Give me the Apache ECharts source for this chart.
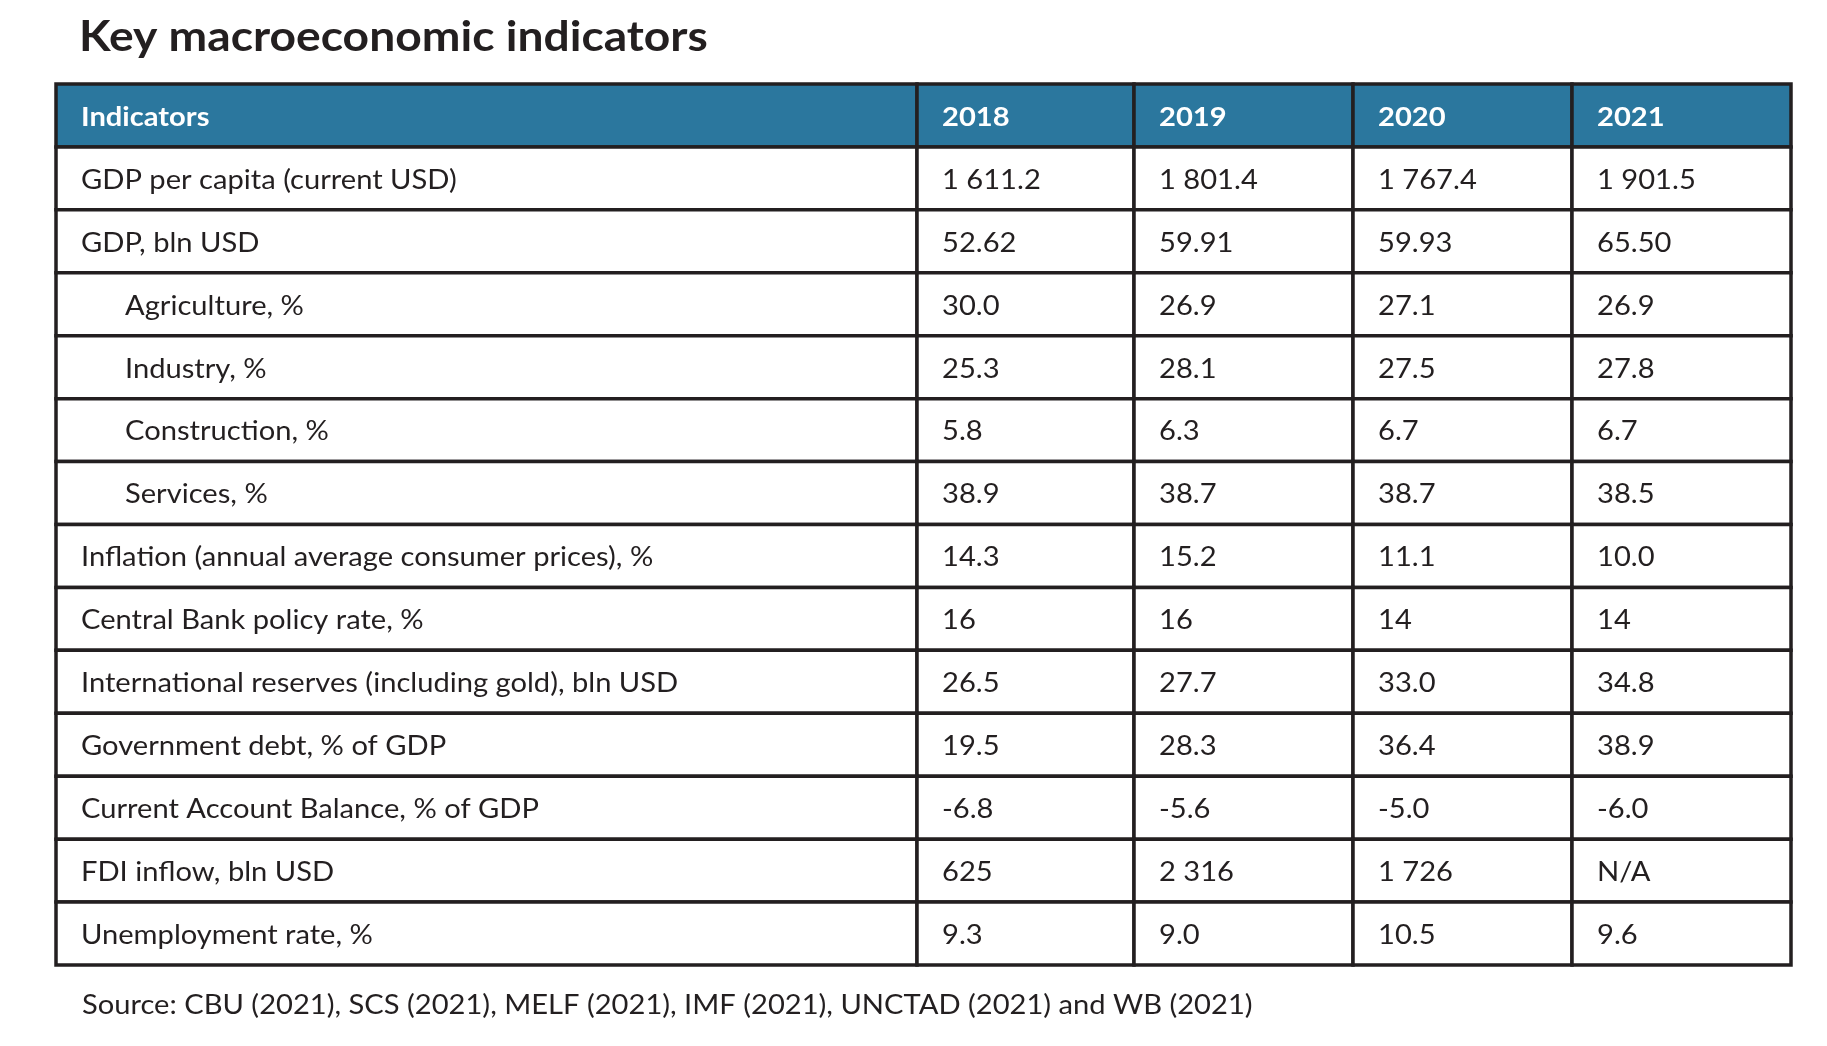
<!DOCTYPE html>
<html>
<head>
<meta charset="utf-8">
<script src="https://cdn.jsdelivr.net/npm/echarts@6/dist/echarts.min.js"></script>
<style>
html,body{margin:0;padding:0;background:#fff;}
#chart{width:1827px;height:1046px;}
</style>
</head>
<body>
<div id="chart"></div>
<script>
// ---- data ----
const headerLabel = 'Indicators';
const years = ['2018', '2019', '2020', '2021'];
const indicators = [
  'GDP per capita (current USD)',
  'GDP, bln USD',
  'Agriculture, %',
  'Industry, %',
  'Construction, %',
  'Services, %',
  'Inflation (annual average consumer prices), %',
  'Central Bank policy rate, %',
  'International reserves (including gold), bln USD',
  'Government debt, % of GDP',
  'Current Account Balance, % of GDP',
  'FDI inflow, bln USD',
  'Unemployment rate, %'
];
// hierarchy level: 1 = component of GDP
const levels = [0, 0, 1, 1, 1, 1, 0, 0, 0, 0, 0, 0, 0];
const values2018 = ['1 611.2', '52.62', '30.0', '25.3', '5.8', '38.9', '14.3', '16', '26.5', '19.5', '-6.8', '625', '9.3'];
const values2019 = ['1 801.4', '59.91', '26.9', '28.1', '6.3', '38.7', '15.2', '16', '27.7', '28.3', '-5.6', '2 316', '9.0'];
const values2020 = ['1 767.4', '59.93', '27.1', '27.5', '6.7', '38.7', '11.1', '14', '33.0', '36.4', '-5.0', '1 726', '10.5'];
const values2021 = ['1 901.5', '65.50', '26.9', '27.8', '6.7', '38.5', '10.0', '14', '34.8', '38.9', '-6.0', 'N/A', '9.6'];
const titleText = 'Key macroeconomic indicators';
const sourceNote = 'Source: CBU (2021), SCS (2021), MELF (2021), IMF (2021), UNCTAD (2021) and WB (2021)';

// ---- layout ----
const colEdges = [0, 861, 1078, 1297, 1516, 1735];
const valueCols = [values2018, values2019, values2020, values2021];
const TEXT_SCALE_X = 1.12;

const cells = [];
cells.push({ col: 0, row: 0, text: headerLabel, header: true, level: 0 });
years.forEach((y, i) => cells.push({ col: i + 1, row: 0, text: y, header: true, level: 0 }));
indicators.forEach((name, r) => {
  cells.push({ col: 0, row: r + 1, text: name, header: false, level: levels[r] });
  valueCols.forEach((arr, c) => cells.push({ col: c + 1, row: r + 1, text: arr[r], header: false, level: 0 }));
});

const chart = echarts.init(document.getElementById('chart'), null, { renderer: 'canvas' });
const FONT = 'Lato, "Noto Sans", sans-serif';

chart.setOption({
  backgroundColor: '#ffffff',
  animation: false,
  graphic: [
    {
      type: 'text',
      x: 79,
      y: 37,
      scaleX: 1.10,
      style: { text: titleText, x: 0, y: 0, font: 'bold 42px ' + FONT, fill: '#231f20', verticalAlign: 'middle', align: 'left' }
    },
    {
      type: 'text',
      x: 82,
      y: 1006,
      scaleX: TEXT_SCALE_X,
      style: { text: sourceNote, x: 0, y: 0, font: '26px ' + FONT, fill: '#231f20', verticalAlign: 'middle', align: 'left' }
    }
  ],
  grid: { left: 56, right: 36, top: 84, bottom: 81 },
  xAxis: { type: 'value', min: 0, max: colEdges[colEdges.length - 1], show: false },
  yAxis: { type: 'value', min: 0, max: indicators.length + 1, inverse: true, show: false },
  series: [{
    type: 'custom',
    clip: false,
    data: cells.map(c => [c.col, c.row]),
    renderItem: function (params, api) {
      const cell = cells[params.dataIndex];
      const col = api.value(0), row = api.value(1);
      const p0 = api.coord([colEdges[col], row]);
      const p1 = api.coord([colEdges[col + 1], row + 1]);
      const x = p0[0], y = p0[1], w = p1[0] - p0[0], h = p1[1] - p0[1];
      const pad = cell.level === 1 ? 69 : 25;
      return {
        type: 'group',
        children: [
          {
            type: 'rect',
            shape: { x: x, y: y, width: w, height: h },
            style: { fill: cell.header ? '#2b779e' : '#ffffff', stroke: '#231f20', lineWidth: 3.5 }
          },
          {
            type: 'text',
            x: x + pad,
            y: y + h / 2 + 2,
            scaleX: TEXT_SCALE_X,
            style: {
              text: cell.text,
              x: 0,
              y: 0,
              align: 'left',
              verticalAlign: 'middle',
              font: (cell.header ? 'bold ' : '') + '26px ' + FONT,
              fill: cell.header ? '#ffffff' : '#231f20'
            }
          }
        ]
      };
    }
  }]
});
</script>
</body>
</html>
